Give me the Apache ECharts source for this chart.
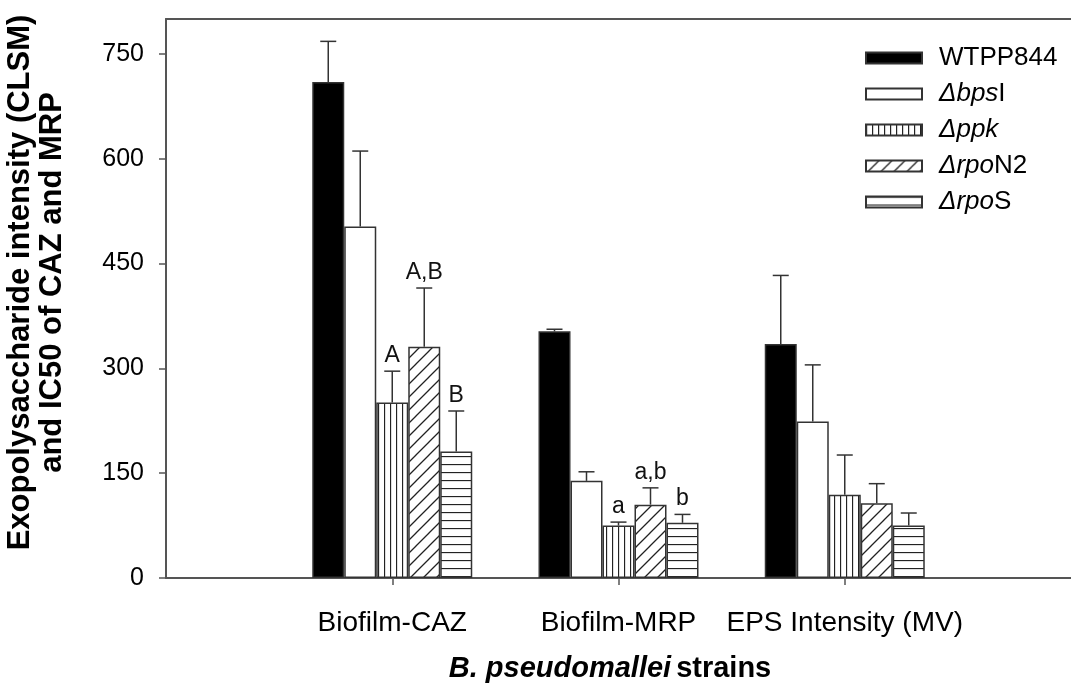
<!DOCTYPE html>
<html>
<head>
<meta charset="utf-8">
<script src="https://cdn.jsdelivr.net/npm/echarts@6/dist/echarts.min.js"></script>
<style>
  html, body { margin: 0; padding: 0; background: #fff; }
  #chart { width: 1071px; height: 686px; }
</style>
</head>
<body>
<div id="chart"></div>
<script>
const categories = ["", "Biofilm-CAZ", "Biofilm-MRP", "EPS Intensity (MV)", ""];
const strains = ["WTPP844", "ΔbpsI", "Δppk", "ΔrpoN2", "ΔrpoS"];

const wtpp844 = [710, 353, 335];
const bpsI = [503, 139, 224];
const ppk = [251, 75, 119];
const rpoN2 = [331, 105, 107];
const rpoS = [181, 79, 75];

const wtpp844Err = [58, 3, 98];
const bpsIErr = [108, 13, 81];
const ppkErr = [45, 5, 57];
const rpoN2Err = [84, 24, 28];
const rpoSErr = [58, 12, 18];

const ppkSig = ["A", "a", ""];
const rpoN2Sig = ["A,B", "a,b", ""];
const rpoSSig = ["B", "b", ""];

const yTicks = [0, 150, 300, 450, 600, 750];

const values = [wtpp844, bpsI, ppk, rpoN2, rpoS];
const errors = [wtpp844Err, bpsIErr, ppkErr, rpoN2Err, rpoSErr];
const sigs = [[], [], ppkSig, rpoN2Sig, rpoSSig];

const FONT = "Liberation Sans";
const INK = "#333";
const BAR_W = 32;

// hatch patterns
function makePattern(w, h, draw) {
  const c = document.createElement("canvas");
  c.width = w;
  c.height = h;
  const ctx = c.getContext("2d");
  ctx.fillStyle = "#fff";
  ctx.fillRect(0, 0, w, h);
  ctx.strokeStyle = "#222";
  ctx.lineWidth = 1.3;
  draw(ctx);
  return { image: c, repeat: "repeat" };
}
const vertical = makePattern(6, 10, (ctx) => {
  ctx.beginPath(); ctx.moveTo(0.5, 0); ctx.lineTo(0.5, 10); ctx.stroke();
});
const diagonal = makePattern(13, 13, (ctx) => {
  ctx.beginPath();
  ctx.moveTo(-1, 14); ctx.lineTo(14, -1);
  ctx.moveTo(-1, 1); ctx.lineTo(1, -1);
  ctx.moveTo(12, 14); ctx.lineTo(14, 12);
  ctx.stroke();
});
const horizontal = makePattern(10, 8, (ctx) => {
  ctx.beginPath(); ctx.moveTo(0, 0.5); ctx.lineTo(10, 0.5); ctx.stroke();
});
const fills = ["#000", "#fff", vertical, diagonal, horizontal];

const pad = (arr) => ["-", ...arr, "-"];

const errItems = [];
values.forEach((vals, s) => {
  vals.forEach((v, i) => {
    errItems.push({ value: [i + 1, v, errors[s][i], s], sig: sigs[s][i] || "" });
  });
});

const chart = echarts.init(document.getElementById("chart"));

const barSeries = strains.map((name, s) => ({
  name,
  type: "bar",
  data: pad(values[s]),
  barWidth: BAR_W,
  barGap: "0%",
  itemStyle: { color: fills[s], borderColor: INK, borderWidth: 1.5 },
  emphasis: { disabled: true },
}));

const errSeries = {
  type: "custom",
  z: 5,
  data: errItems.map((d) => d.value),
  renderItem: (params, api) => {
    const cat = api.value(0);
    const v = api.value(1);
    const e = api.value(2);
    const s = api.value(3);
    const base = api.coord([cat, v]);
    const top = api.coord([cat, v + e]);
    const x = base[0] + (s - 2) * BAR_W;
    const style = { stroke: INK, lineWidth: 1.5 };
    const children = [
      { type: "line", shape: { x1: x, y1: base[1], x2: x, y2: top[1] }, style },
      { type: "line", shape: { x1: x - 8, y1: top[1], x2: x + 8, y2: top[1] }, style },
    ];
    const sig = errItems[params.dataIndex].sig;
    if (sig) {
      children.push({
        type: "text",
        style: {
          text: sig, x, y: top[1] - 4,
          align: "center", verticalAlign: "bottom",
          font: "23px " + FONT, fill: "#111",
        },
      });
    }
    return { type: "group", children };
  },
};

const legendNames = {
  "WTPP844": "WTPP844",
  "ΔbpsI": "{i|Δbps}I",
  "Δppk": "{i|Δppk}",
  "ΔrpoN2": "{i|Δrpo}N2",
  "ΔrpoS": "{i|Δrpo}S",
};

chart.setOption({
  animation: false,
  textStyle: { fontFamily: FONT },
  grid: { left: 166, right: 0, top: 19, bottom: 108, outerBoundsMode: "none", containLabel: false },
  title: {
    text: "{bi|B. pseudomallei} {b|strains}",
    left: 605,
    top: 649,
    textAlign: "center",
    textStyle: {
      rich: {
        bi: { fontFamily: FONT, fontSize: 29, fontWeight: "bold", fontStyle: "italic", color: "#000" },
        b: { fontFamily: FONT, fontSize: 29, fontWeight: "bold", color: "#000" },
      },
    },
  },
  legend: {
    data: strains,
    orient: "vertical",
    left: 860,
    top: 40,
    itemWidth: 56,
    itemHeight: 11,
    itemGap: 10,
    icon: "rect",
    formatter: (name) => legendNames[name],
    textStyle: {
      fontSize: 26,
      color: "#000",
      padding: [0, 0, 0, 12],
      rich: { i: { fontSize: 26, fontStyle: "italic", color: "#000" } },
    },
  },
  xAxis: [
    {
      type: "category",
      data: categories,
      boundaryGap: false,
      axisLine: { lineStyle: { color: "#555", width: 2 } },
      axisTick: {
        interval: (i) => i >= 1 && i <= 3,
        length: 7,
        lineStyle: { color: "#555", width: 1.5 },
      },
      axisLabel: { interval: 0, fontSize: 28, color: "#000", margin: 31 },
    },
    {
      type: "category",
      data: categories,
      position: "top",
      boundaryGap: false,
      axisLine: { lineStyle: { color: "#555", width: 2 } },
      axisTick: { show: false },
      axisLabel: { show: false },
    },
  ],
  yAxis: {
    type: "value",
    min: 0,
    max: 800,
    axisLine: { show: true, lineStyle: { color: "#555", width: 2 } },
    axisTick: { show: true, length: 7, customValues: yTicks, lineStyle: { color: "#555", width: 1.5 } },
    axisLabel: { fontSize: 25, color: "#000", margin: 22, customValues: yTicks },
    splitLine: { show: false },
    name: "Exopolysaccharide intensity (CLSM)\nand IC50 of CAZ and MRP",
    nameLocation: "middle",
    nameGap: 98,
    nameTextStyle: {
      fontSize: 31,
      fontWeight: "bold",
      color: "#000",
      lineHeight: 32,
      padding: [0, 0, 0, 32],
    },
  },
  series: [...barSeries, errSeries],
});
</script>
</body>
</html>
